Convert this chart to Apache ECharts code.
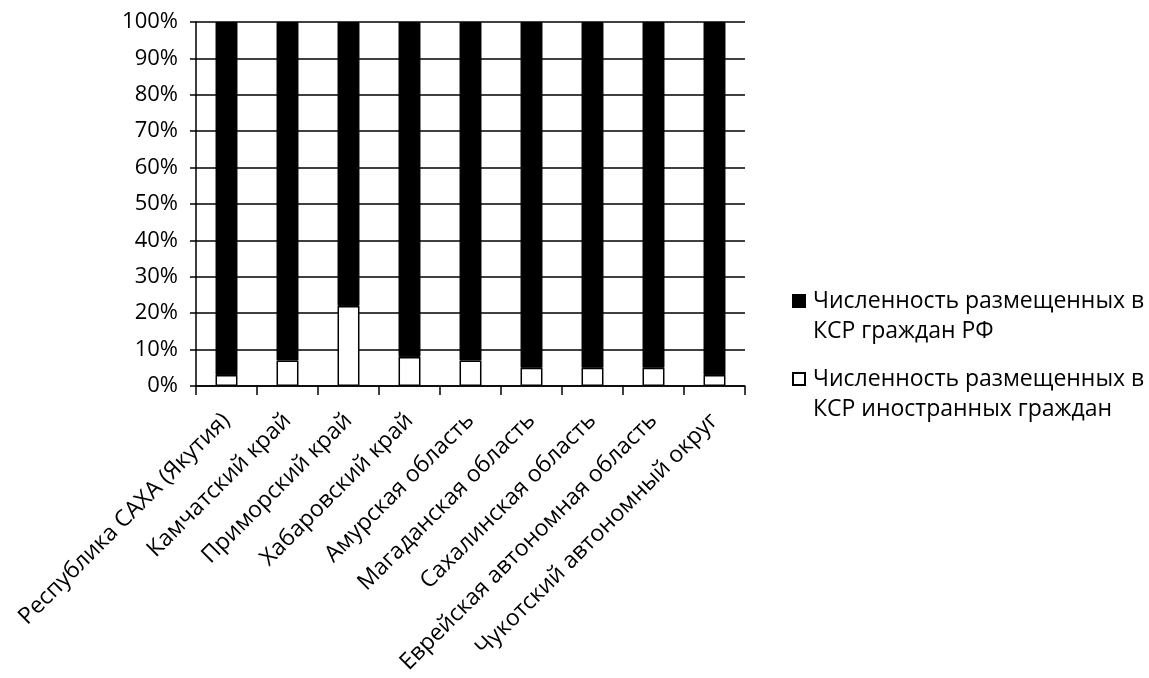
<!DOCTYPE html>
<html>
<head>
<meta charset="utf-8">
<script src="https://cdn.jsdelivr.net/npm/echarts@6/dist/echarts.min.js"></script>
<style>
html,body{margin:0;padding:0;background:#fff;}
#c{width:1149px;height:678px;}
</style>
</head>
<body>
<div id="c"></div>
<script>
const categories = ["Республика САХА (Якутия)", "Камчатский край", "Приморский край", "Хабаровский край", "Амурская область", "Магаданская область", "Сахалинская область", "Еврейская автономная область", "Чукотский автономный округ"];
const foreignValues = [3, 7, 22, 8, 7, 5, 5, 5, 3];
const rfValues = [97, 93, 78, 92, 93, 95, 95, 95, 97];
const seriesNames = ["Численность размещенных в КСР граждан РФ", "Численность размещенных в КСР иностранных граждан"];
const legendLabels = ["Численность размещенных в\nКСР граждан РФ", "Численность размещенных в\nКСР иностранных граждан"];
const yTicks = [0, 10, 20, 30, 40, 50, 60, 70, 80, 90, 100];

const font = "'Open Sans', 'Noto Sans', sans-serif";
const chart = echarts.init(document.getElementById('c'));
chart.setOption({
  backgroundColor: '#fff',
  animation: false,
  grid: {left: 196, right: 404, top: 22, bottom: 292, containLabel: false},
  legend: {
    orient: 'vertical', left: 792, top: 256, padding: 0,
    data: [seriesNames[0], seriesNames[1]],
    itemWidth: 12, itemHeight: 12, itemGap: -12,
    icon: 'rect',
    formatter: function(n){ return '\n' + legendLabels[seriesNames.indexOf(n)]; },
    textStyle: {fontFamily: font, fontSize: 23, color: '#000', lineHeight: 30, padding: [0,0,0,3]}
  },
  xAxis: {
    type: 'category', data: categories,
    axisLine: {lineStyle: {color: '#000', width: 1.5}},
    axisTick: {show: true, length: 9, lineStyle: {color: '#000', width: 1.5}},
    axisLabel: {rotate: 45, fontFamily: font, fontSize: 23, color: '#000', margin: 31, interval: 0}
  },
  yAxis: {
    type: 'value', min: yTicks[0], max: yTicks[yTicks.length-1], interval: 10,
    axisLine: {show: true, lineStyle: {color: '#000', width: 1.5}},
    axisTick: {show: true, length: 6, lineStyle: {color: '#000', width: 1.5}},
    axisLabel: {formatter: '{value}%', fontFamily: font, fontSize: 22, color: '#000', margin: 18},
    splitLine: {show: true, lineStyle: {color: '#000', width: 1.5}}
  },
  series: [
    {
      name: seriesNames[1], type: 'bar', stack: 'total', data: foreignValues, barWidth: '36%',
      itemStyle: {color: '#fff', borderColor: '#000', borderWidth: 1.5}
    },
    {
      name: seriesNames[0], type: 'bar', stack: 'total', data: rfValues, barWidth: '36%',
      itemStyle: {color: '#000', borderColor: '#000', borderWidth: 1}
    }
  ]
});
</script>
</body>
</html>
